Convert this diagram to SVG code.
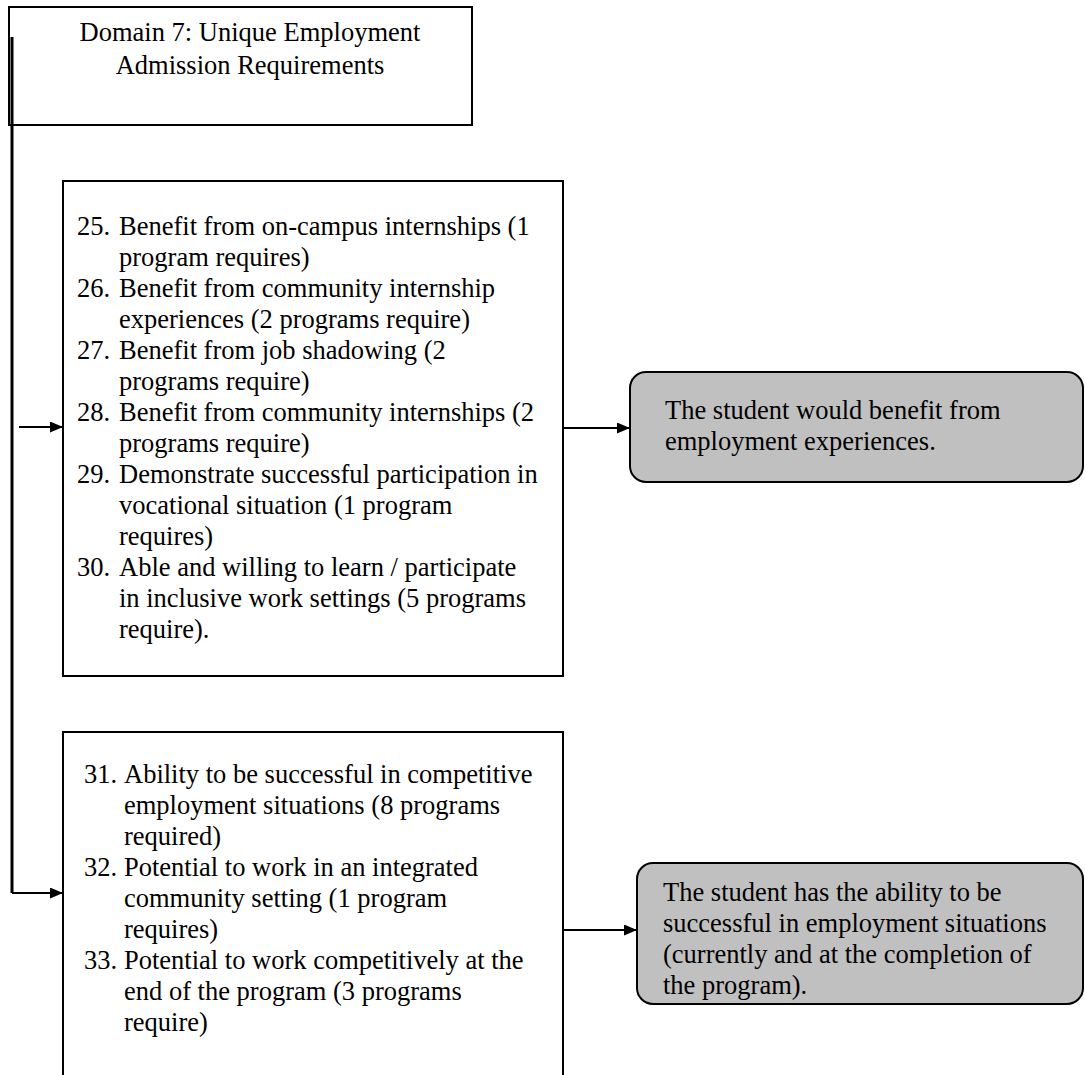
<svg xmlns="http://www.w3.org/2000/svg" width="1085" height="1075" viewBox="0 0 1085 1075">
  <defs>
    <marker id="arrow" viewBox="0 0 13 11" refX="13" refY="5.5" markerWidth="13" markerHeight="11" markerUnits="userSpaceOnUse" orient="auto">
      <path d="M0,0 L13,5.5 L0,11 z" fill="#000"/>
    </marker>
    <style>
      .box { fill: #fff; stroke: #000; stroke-width: 2; }
      .result { fill: #c0c0c0; stroke: #000; stroke-width: 2; }
      .txt { font-family: "Liberation Serif", "Times New Roman", serif; font-size: 26.5px; fill: #000; }
      .mid { text-anchor: middle; }
      .link { fill: none; stroke: #000; stroke-width: 2; }
      .trunk { fill: none; stroke: #000; stroke-width: 3; }
    </style>
  </defs>

  <rect width="1085" height="1075" fill="#fff"/>

  <!-- Domain heading -->
  <g id="domain">
    <rect class="box" x="9" y="7" width="463" height="118"/>
    <text class="txt mid" x="250" y="41">Domain 7: Unique Employment</text>
    <text class="txt mid" x="250" y="74">Admission Requirements</text>
  </g>

  <!-- Requirements 25-30 -->
  <g id="items-25-30">
    <rect class="box" x="63" y="181" width="500" height="495"/>
    <g class="txt">
      <text x="77" y="235">25.</text><text x="119" y="235">Benefit from on-campus internships (1</text>
      <text x="119" y="266">program requires)</text>
      <text x="77" y="297">26.</text><text x="119" y="297">Benefit from community internship</text>
      <text x="119" y="328">experiences (2 programs require)</text>
      <text x="77" y="359">27.</text><text x="119" y="359">Benefit from job shadowing (2</text>
      <text x="119" y="390">programs require)</text>
      <text x="77" y="421">28.</text><text x="119" y="421">Benefit from community internships (2</text>
      <text x="119" y="452">programs require)</text>
      <text x="77" y="483">29.</text><text x="119" y="483">Demonstrate successful participation in</text>
      <text x="119" y="514">vocational situation (1 program</text>
      <text x="119" y="545">requires)</text>
      <text x="77" y="576">30.</text><text x="119" y="576">Able and willing to learn / participate</text>
      <text x="119" y="607">in inclusive work settings (5 programs</text>
      <text x="119" y="638">require).</text>
    </g>
  </g>

  <!-- Outcome of 25-30 -->
  <g id="outcome-experience">
    <rect class="result" x="630" y="372" width="453" height="110" rx="16" ry="16"/>
    <text class="txt" x="665" y="419">The student would benefit from</text>
    <text class="txt" x="665" y="450">employment experiences.</text>
  </g>

  <!-- Requirements 31-33 -->
  <g id="items-31-33">
    <rect class="box" x="63" y="732" width="500" height="360"/>
    <g class="txt">
      <text x="84" y="783">31.</text><text x="124" y="783">Ability to be successful in competitive</text>
      <text x="124" y="814">employment situations (8 programs</text>
      <text x="124" y="845">required)</text>
      <text x="84" y="876">32.</text><text x="124" y="876">Potential to work in an integrated</text>
      <text x="124" y="907">community setting (1 program</text>
      <text x="124" y="938">requires)</text>
      <text x="84" y="969">33.</text><text x="124" y="969">Potential to work competitively at the</text>
      <text x="124" y="1000">end of the program (3 programs</text>
      <text x="124" y="1031">require)</text>
    </g>
  </g>

  <!-- Outcome of 31-33 -->
  <g id="outcome-ability">
    <rect class="result" x="637" y="863" width="446" height="141" rx="16" ry="16"/>
    <text class="txt" x="663" y="901">The student has the ability to be</text>
    <text class="txt" x="663" y="932">successful in employment situations</text>
    <text class="txt" x="663" y="963">(currently and at the completion of</text>
    <text class="txt" x="663" y="994">the program).</text>
  </g>

  <!-- Connectors -->
  <g id="connectors">
    <path class="trunk" d="M12,37 V893"/>
    <path class="link" d="M12,893 H63" marker-end="url(#arrow)"/>
    <path class="link" d="M19,427 H63" marker-end="url(#arrow)"/>
    <path class="link" d="M563,428 H630" marker-end="url(#arrow)"/>
    <path class="link" d="M563,930 H637" marker-end="url(#arrow)"/>
  </g>
</svg>
